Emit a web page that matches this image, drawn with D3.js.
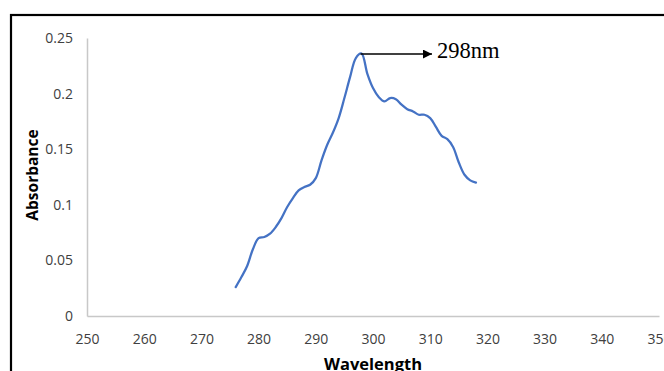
<!DOCTYPE html>
<html>
<head>
<meta charset="utf-8">
<script src="https://cdn.jsdelivr.net/npm/d3@7"></script>
<style>
  body { margin: 0; background: #fff; }
  svg { display: block; }
</style>
</head>
<body>
<svg id="chart"></svg>
<script>
// Spectrum values (1 nm steps)
var wavelengths = d3.range(276, 319);
var absorbance = [
  0.026, 0.035, 0.045, 0.060, 0.070, 0.071, 0.074, 0.080, 0.088, 0.098,
  0.106, 0.113, 0.116, 0.118, 0.124, 0.140, 0.154, 0.165, 0.178, 0.196,
  0.215, 0.232, 0.236, 0.218, 0.205, 0.197, 0.193, 0.196, 0.195, 0.190,
  0.186, 0.184, 0.181, 0.181, 0.178, 0.170, 0.162, 0.159, 0.152, 0.138,
  0.127, 0.122, 0.120
];
var xTicks = [250, 260, 270, 280, 290, 300, 310, 320, 330, 340, 350];
var yTicks = [0, 0.05, 0.1, 0.15, 0.2, 0.25];
var peakX = 298, peakY = 0.236, peakLabel = "298nm";

var width = 664, height = 371;
var svg = d3.select("#chart").attr("width", width).attr("height", height);

var x = d3.scaleLinear().domain([250, 350]).range([87, 659]);
var y = d3.scaleLinear().domain([0, 0.25]).range([316, 38]);

// frame around the figure
svg.append("rect")
    .attr("x", 11).attr("y", 15)
    .attr("width", 700).attr("height", 400)
    .attr("fill", "none")
    .attr("stroke", "#000")
    .attr("stroke-width", 2.2);

// y axis
var yAxis = svg.append("g")
    .attr("transform", "translate(" + x(250) + ",0)")
    .call(d3.axisLeft(y).tickValues(yTicks).tickSize(0).tickPadding(14)
        .tickFormat(function (d) { return d === 0 ? "0" : d3.format("")(d); }));
yAxis.select(".domain").attr("stroke", "#c8c8c8").attr("stroke-width", 1.5);

// x axis
var xAxis = svg.append("g")
    .attr("transform", "translate(0," + y(0) + ")")
    .call(d3.axisBottom(x).tickValues(xTicks).tickSize(0).tickPadding(18));
xAxis.select(".domain").attr("stroke", "#c8c8c8").attr("stroke-width", 1.5);

svg.selectAll(".tick text")
    .attr("fill", "#404040")
    .style("font-family", "'Open Sans', sans-serif")
    .style("font-size", "14px");

// axis titles
svg.append("text")
    .attr("transform", "translate(38,175) rotate(-90)")
    .attr("text-anchor", "middle")
    .style("font-family", "'Open Sans', sans-serif")
    .style("font-size", "15.5px")
    .style("font-weight", "bold")
    .attr("fill", "#000")
    .text("Absorbance");

svg.append("text")
    .attr("x", 373).attr("y", 370)
    .attr("text-anchor", "middle")
    .style("font-family", "'Open Sans', sans-serif")
    .style("font-size", "16.5px")
    .style("font-weight", "bold")
    .attr("fill", "#000")
    .text("Wavelength");

// spectrum line
var line = d3.line()
    .x(function (d, i) { return x(wavelengths[i]); })
    .y(function (d) { return y(d); })
    .curve(d3.curveCatmullRom.alpha(0.5));

svg.append("path")
    .datum(absorbance)
    .attr("fill", "none")
    .attr("stroke", "#4472C4")
    .attr("stroke-width", 2.25)
    .attr("stroke-linecap", "round")
    .attr("d", line);

// peak annotation arrow
svg.append("defs").append("marker")
    .attr("id", "arrow")
    .attr("viewBox", "0 0 10 10")
    .attr("refX", 10).attr("refY", 5)
    .attr("markerWidth", 10).attr("markerHeight", 9)
    .attr("markerUnits", "userSpaceOnUse")
    .attr("orient", "auto")
    .append("path")
    .attr("d", "M0,0L10,5L0,10Z")
    .attr("fill", "#000");

svg.append("line")
    .attr("x1", x(peakX) - 1).attr("y1", y(peakY) + 0.5)
    .attr("x2", 432).attr("y2", y(peakY) + 0.5)
    .attr("stroke", "#000")
    .attr("stroke-width", 1.5)
    .attr("marker-end", "url(#arrow)");

svg.append("text")
    .attr("x", 437).attr("y", y(peakY) + 4)
    .style("font-family", "'Liberation Serif', serif")
    .style("font-size", "22.5px")
    .attr("fill", "#000")
    .text(peakLabel);
</script>
</body>
</html>
